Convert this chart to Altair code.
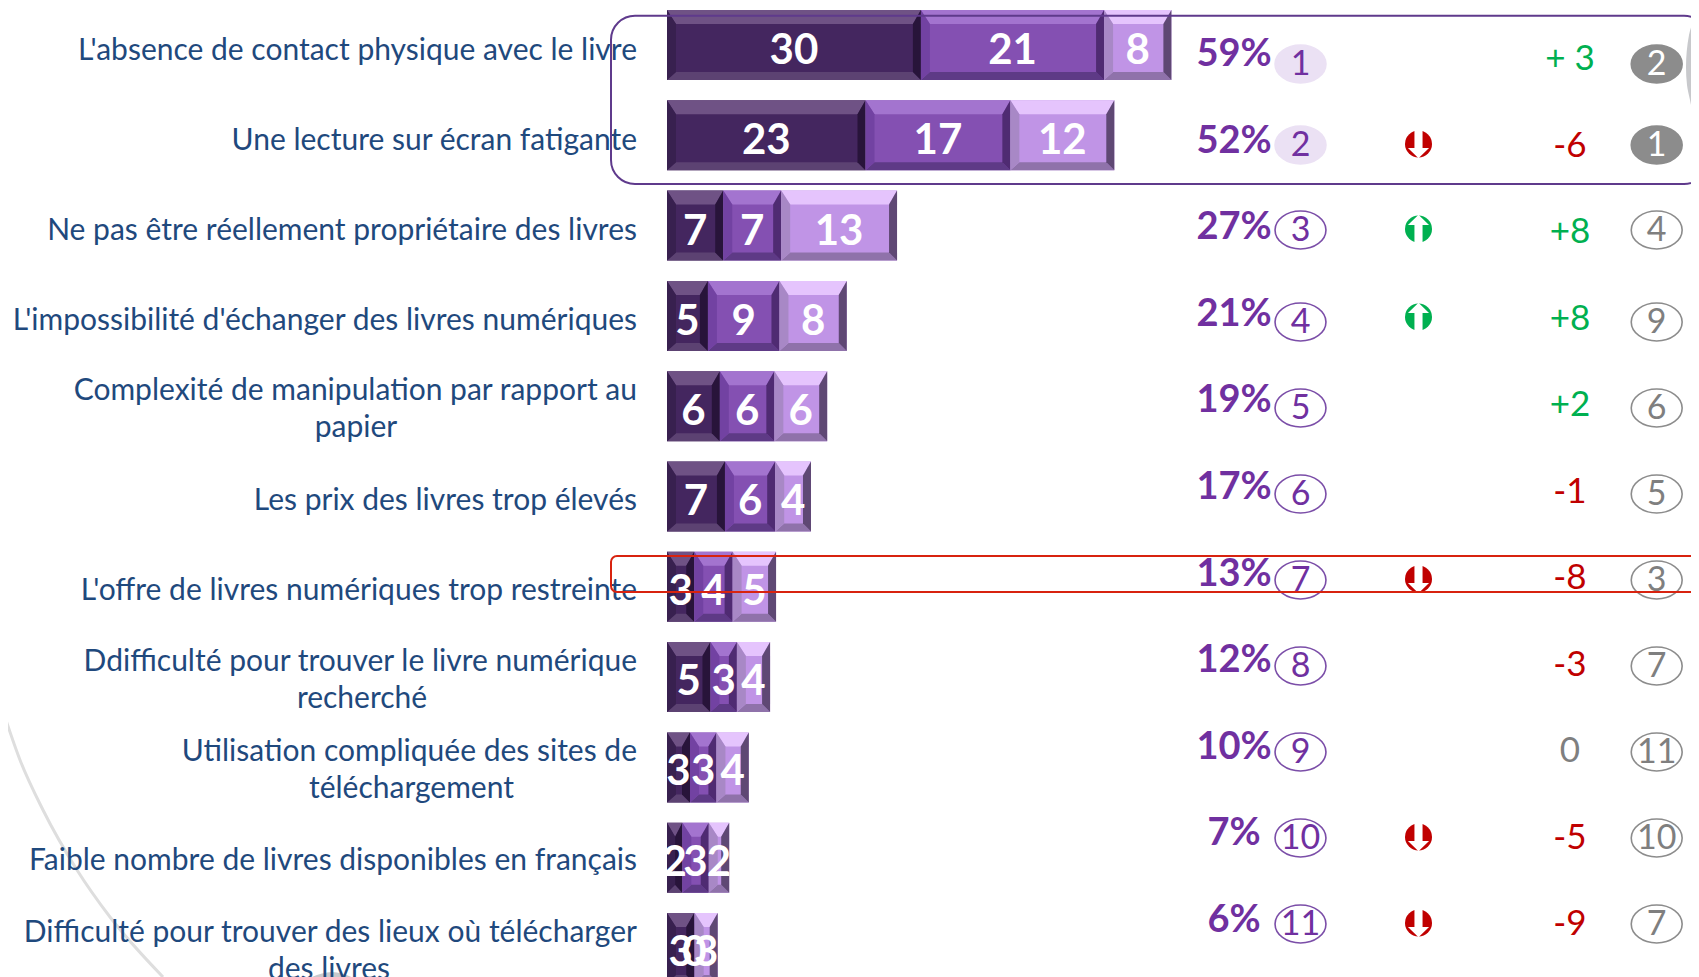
import altair as alt
import pandas as pd

# ---- values ----
labels = [
    ["L'absence de contact physique avec le livre"],
    ["Une lecture sur écran fatigante"],
    ["Ne pas être réellement propriétaire des livres"],
    ["L'impossibilité d'échanger des livres numériques"],
    ["Complexité de manipulation par rapport au", "papier"],
    ["Les prix des livres trop élevés"],
    ["L'offre de livres numériques trop restreinte"],
    ["Ddifficulté pour trouver le livre numérique", "recherché"],
    ["Utilisation compliquée des sites de", "téléchargement"],
    ["Faible nombre de livres disponibles en français"],
    ["Difficulté pour trouver des lieux où télécharger", "des livres"],
]
dark = [29.8, 23.3, 6.6, 4.8, 6.2, 6.8, 3.2, 5.1, 2.7, 1.8, 3.2]
mid = [21.5, 17.0, 6.8, 8.4, 6.4, 5.9, 4.5, 3.1, 3.1, 3.1, 0.05]
light = [7.9, 12.2, 13.6, 7.9, 6.2, 4.2, 5.1, 3.9, 3.8, 2.4, 2.7]
dark_txt = ["30", "23", "7", "5", "6", "7", "3", "5", "3", "2", "3"]
mid_txt = ["21", "17", "7", "9", "6", "6", "4", "3", "3", "3", "0"]
light_txt = ["8", "12", "13", "8", "6", "4", "5", "4", "4", "2", "3"]
pct = ["59%", "52%", "27%", "21%", "19%", "17%", "13%", "12%", "10%", "7%", "6%"]
rank_now = ["1", "2", "3", "4", "5", "6", "7", "8", "9", "10", "11"]
rank_prev = ["2", "1", "4", "9", "6", "5", "3", "7", "11", "10", "7"]
delta = ["+ 3", "-6", "+8", "+8", "+2", "-1", "-8", "-3", "0", "-5", "-9"]
arrows = ["", "d", "u", "u", "", "", "d", "", "", "d", "d"]

# ---- page geometry (full-image pixels) ----
PXU, X0 = 8.52, 667.0
ROW, Y0 = 90.3, 44.0
W, H = 1683, 969


def ux(px):
    return (px - X0) / PXU


def uy(px):
    return (px - Y0) / ROW


x_s = alt.Scale(domain=[ux(8), ux(8 + W)], nice=False, zero=False)
y_s = alt.Scale(domain=[uy(8), uy(8 + H)], nice=False, zero=False, reverse=True)
X = alt.X("x:Q", scale=x_s, axis=None)
Y = alt.Y("y:Q", scale=y_s, axis=None)
FONT = "Lato"

PAL = {
    "dark": dict(base="#44265f", top="#6f5285", bot="#5c4272", l="#38204f", r="#28143a"),
    "mid": dict(base="#8450b2", top="#a374cf", bot="#5e3a86", l="#7242a2", r="#4f2b72"),
    "light": dict(base="#c094e6", top="#e5c4fd", bot="#8f72aa", l="#a888c6", r="#5f4874"),
}
BH = 70 / ROW
BT, BB = 14 / ROW, 8 / ROW
BL, BR = 9 / PXU, 8 / PXU

rects, horiz, vert, nums = [], [], [], []
for i in range(len(labels)):
    left = 0.0
    for name, vals, txt in (("dark", dark, dark_txt), ("mid", mid, mid_txt), ("light", light, light_txt)):
        w = vals[i]
        x0, x1 = left, left + w
        left = x1
        yc = i + 1 / ROW
        y0, y1 = yc - BH / 2, yc + BH / 2
        p = PAL[name]
        k = min(1.0, w / (BL + BR))
        bl, br = BL * k, BR * k
        rects.append(dict(x=x0, x2=x1, y=y0, y2=y1, fill=p["base"]))
        nums.append(dict(x=(x0 + x1) / 2, y=i + uy(51) if i < 5 else i + uy(50), t=txt[i]))
        seg = f"{i}-{name}"
        for xx, top_d in ((x0, 0), (x0 + bl, BT), (x1 - br, BT), (x1, 0)):
            horiz.append(dict(seg=seg + "t", x=xx, y=y0, y2=y0 + top_d, fill=p["top"]))
        for xx, bot_d in ((x0, 0), (x0 + bl, BB), (x1 - br, BB), (x1, 0)):
            horiz.append(dict(seg=seg + "b", x=xx, y=y1, y2=y1 - bot_d, fill=p["bot"]))
        for yy, d in ((y0, 0), (y0 + BT, bl), (y1 - BB, bl), (y1, 0)):
            vert.append(dict(seg=seg + "l", y=yy, x=x0, x2=x0 + d, fill=p["l"]))
        for yy, d in ((y0, 0), (y0 + BT, br), (y1 - BB, br), (y1, 0)):
            vert.append(dict(seg=seg + "r", y=yy, x=x1, x2=x1 - d, fill=p["r"]))

bars = alt.Chart(pd.DataFrame(rects)).mark_rect().encode(
    x=X, x2="x2:Q", y=Y, y2="y2:Q", fill=alt.Fill("fill:N", scale=None)
)
band_h = alt.Chart(pd.DataFrame(horiz)).mark_area().encode(
    x=X, y=Y, y2="y2:Q", detail="seg:N", fill=alt.Fill("fill:N", scale=None)
)
band_v = alt.Chart(pd.DataFrame(vert)).mark_area(orient="horizontal").encode(
    y=Y, x=X, x2="x2:Q", detail="seg:N", fill=alt.Fill("fill:N", scale=None)
)
bar_nums = alt.Chart(pd.DataFrame(nums)).mark_text(
    font=FONT, fontSize=42, fontWeight="bold", color="white", baseline="middle"
).encode(x=X, y=Y, text="t:N")

# ---- category labels ----
second_x = {4: 356, 7: 362, 8: 411.5, 10: 329}
single_nudge = {0: 2, 1: 2, 2: 1, 3: 1, 9: -1}
lab_r, lab_c = [], []
for i, lines in enumerate(labels):
    if len(lines) == 1:
        lab_r.append(dict(x=ux(637), y=i + (5 + single_nudge.get(i, 0)) / ROW, t=lines[0]))
    else:
        lab_r.append(dict(x=ux(637), y=i - 14 / ROW, t=lines[0]))
        lab_c.append(dict(x=ux(second_x[i]), y=i + 23 / ROW, t=lines[1]))
LABC = "#1f497d"
lab1 = alt.Chart(pd.DataFrame(lab_r)).mark_text(
    font=FONT, fontSize=30, color=LABC, align="right", baseline="middle"
).encode(x=X, y=Y, text="t:N")
lab2 = alt.Chart(pd.DataFrame(lab_c)).mark_text(
    font=FONT, fontSize=30, color=LABC, align="center", baseline="middle"
).encode(x=X, y=Y, text="t:N")

# ---- right hand columns ----
shift = {1: -5, 2: -6}
arrow_shift = {3: -4}
right = []
for i in range(len(pct)):
    cy = 64 + 86 * i + shift.get(i, 0)
    right.append(dict(
        pct=pct[i], now=rank_now[i], prev=rank_prev[i], delta=delta[i],
        y_pct=uy(55 + 86.6 * i), y=uy(cy), y_txt=uy(cy + 1),
        y_delta=uy(59 + 86.5 * i), y_arr=uy(cy - 1 + arrow_shift.get(i, 0)),
        x_pct=ux(1234), x_now=ux(1300.5), x_prev=ux(1656.7), x_delta=ux(1570), x_arr=ux(1418.5),
        d_col="#00b050" if delta[i].startswith("+") else ("#c00000" if delta[i].startswith("-") else "#7f7f7f"),
        now_fill="#ebe1f4" if i < 2 else "white",
        now_stroke="#ebe1f4" if i < 2 else "#7b4ea8",
        prev_fill="#8c8c8c" if i < 2 else "white",
        prev_txt="white" if i < 2 else "#7f7f7f",
        arrow=arrows[i],
    ))
rd = pd.DataFrame(right)
ELL = "M-1.34,0 A1.34,1 0 1 1 1.34,0 A1.34,1 0 1 1 -1.34,0 Z"
ARROW_D = "M-0.3,-1.05 L0.3,-1.05 L0.3,0.3 L0.78,0.3 L0,1.05 L-0.78,0.3 L-0.3,0.3 Z"
ARROW_U = "M-0.3,1.05 L0.3,1.05 L0.3,-0.3 L0.78,-0.3 L0,-1.05 L-0.78,-0.3 L-0.3,-0.3 Z"
B = alt.Chart(rd)

pct_t = B.mark_text(font=FONT, fontSize=38, fontWeight="bold", color="#7030a0", baseline="middle").encode(
    x=alt.X("x_pct:Q", scale=x_s, axis=None), y=alt.Y("y_pct:Q", scale=y_s, axis=None), text="pct:N"
)
now_c = B.mark_point(shape=ELL, size=1444, filled=False, strokeWidth=1.6, opacity=1).encode(
    x=alt.X("x_now:Q", scale=x_s, axis=None), y=Y,
    fill=alt.Fill("now_fill:N", scale=None), stroke=alt.Stroke("now_stroke:N", scale=None),
)
now_t = B.mark_text(font=FONT, fontSize=34, color="#7030a0", baseline="middle").encode(
    x=alt.X("x_now:Q", scale=x_s, axis=None), y=alt.Y("y_txt:Q", scale=y_s, axis=None), text="now:N"
)
prev_c = B.mark_point(shape=ELL, size=1444, filled=False, strokeWidth=1.6, opacity=1, stroke="#8c8c8c").encode(
    x=alt.X("x_prev:Q", scale=x_s, axis=None), y=Y, fill=alt.Fill("prev_fill:N", scale=None),
)
prev_t = B.mark_text(font=FONT, fontSize=34, baseline="middle").encode(
    x=alt.X("x_prev:Q", scale=x_s, axis=None), y=alt.Y("y_txt:Q", scale=y_s, axis=None), text="prev:N",
    color=alt.Color("prev_txt:N", scale=None),
)
delta_t = B.mark_text(font=FONT, fontSize=35, baseline="middle").encode(
    x=alt.X("x_delta:Q", scale=x_s, axis=None), y=alt.Y("y_delta:Q", scale=y_s, axis=None), text="delta:N",
    color=alt.Color("d_col:N", scale=None),
)


def arrow_layer(kind, col, path):
    d = alt.Chart(rd[rd.arrow == kind])
    enc = dict(x=alt.X("x_arr:Q", scale=x_s, axis=None), y=alt.Y("y_arr:Q", scale=y_s, axis=None))
    return (
        d.mark_point(shape="circle", size=729, filled=True, color=col, opacity=1).encode(**enc)
        + d.mark_point(shape=path, size=729, filled=True, color="white", opacity=1).encode(**enc)
    )


# ---- decoration ----
big = pd.DataFrame({"x": [ux(1699), ux(1695), ux(1689), ux(1686), ux(1687), ux(1690), ux(1695), ux(1699)],
                    "y": [uy(8), uy(17), uy(35), uy(67), uy(85), uy(100), uy(125), uy(147)]})
big["x2"] = ux(1720)
bulge = alt.Chart(big).mark_area(orient="horizontal", color="#c8c9cc", interpolate="monotone").encode(y=Y, x=X, x2="x2:Q")

arc = pd.DataFrame({"x": [ux(0), ux(20), ux(43), ux(77), ux(110), ux(163)],
                    "y": [uy(702), uy(760), uy(810), uy(870), uy(917), uy(977)]})
swoosh = alt.Chart(arc).mark_line(color="#dedede", strokeWidth=3, interpolate="monotone").encode(
    x=X, y=alt.Y("y:Q", scale=y_s, axis=None), order="x:Q"
)
blob = pd.DataFrame({"x": [ux(305), ux(332), ux(358)], "y": [uy(980), uy(972), uy(980)]})
blob["y2"] = uy(980)
blob_m = alt.Chart(blob).mark_area(color="#c8c9cc", interpolate="monotone").encode(x=X, y=Y, y2="y2:Q")

frame = pd.DataFrame({"x": [ux(611)], "x2": [ux(1708)], "y": [uy(15.7)], "y2": [uy(184)]})
frame_m = alt.Chart(frame).mark_rect(fillOpacity=0, stroke="#5f3a8c", strokeWidth=2, cornerRadius=24).encode(
    x=X, x2="x2:Q", y=Y, y2="y2:Q"
)
red = pd.DataFrame({"x": [ux(611)], "x2": [ux(1712)], "y": [uy(556)], "y2": [uy(592)]})
red_m = alt.Chart(red).mark_rect(fillOpacity=0, stroke="#d8230f", strokeWidth=2, cornerRadius=6).encode(
    x=X, x2="x2:Q", y=Y, y2="y2:Q"
)

chart = alt.layer(
    bulge, swoosh, blob_m, bars, band_h, band_v, bar_nums, lab1, lab2, frame_m,
    now_c, prev_c, pct_t, now_t, prev_t, delta_t,
    arrow_layer("d", "#c00000", ARROW_D), arrow_layer("u", "#00b050", ARROW_U), red_m,
).properties(
    width=W, height=H, padding=0, background="white",
    autosize=alt.AutoSizeParams(type="none", contains="padding"),
).configure_view(strokeWidth=0, stroke="transparent")

chart.save("out.html", embed_options={"renderer": "svg", "actions": False})
